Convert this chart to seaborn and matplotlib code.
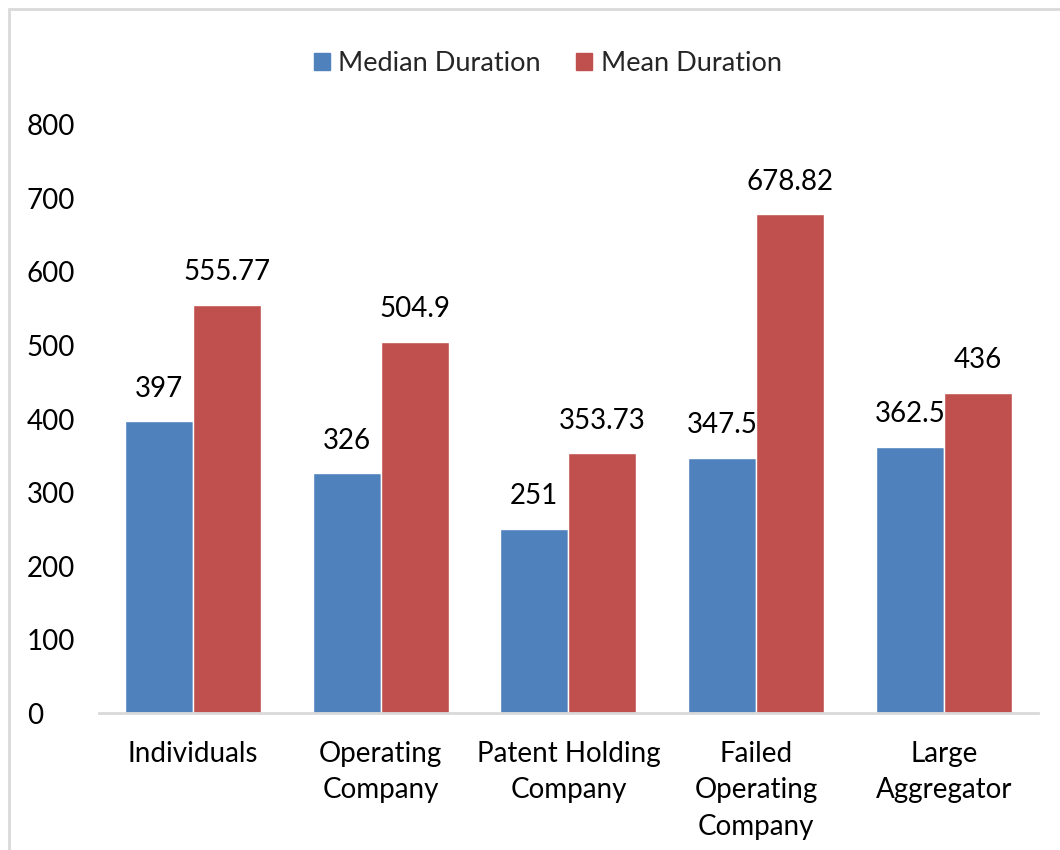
import pandas as pd
import matplotlib.pyplot as plt
import matplotlib.patches as mpatches
import seaborn as sns

# Dados do gráfico
categorias = ['Individuals', 'Operating\nCompany', 'Patent Holding\nCompany',
              'Failed\nOperating\nCompany', 'Large\nAggregator']
mediana = [397, 326, 251, 347.5, 362.5]
media = [555.77, 504.9, 353.73, 678.82, 436]
rotulos_mediana = ['397', '326', '251', '347.5', '362.5']
rotulos_media = ['555.77', '504.9', '353.73', '678.82', '436']
series = ['Median Duration', 'Mean Duration']
cores = ['#4F81BD', '#C0504D']

df = pd.DataFrame({
    'Categoria': categorias * 2,
    'Valor': mediana + media,
    'Serie': [series[0]] * 5 + [series[1]] * 5,
})

sns.set_style('white')
plt.rcParams['font.family'] = ['Lato', 'DejaVu Sans']

fig = plt.figure(figsize=(10.6, 8.5), dpi=100)
ax = fig.add_axes([0.0934, 0.161, 0.8856, 0.692])

sns.barplot(data=df, x='Categoria', y='Valor', hue='Serie', palette=cores,
            width=0.725, saturation=1, ax=ax, legend=True)

# Rótulos de dados
for cont, rot in zip(ax.containers, [rotulos_mediana, rotulos_media]):
    ax.bar_label(cont, labels=rot, padding=14, fontsize=20, color='black')

ax.set_ylim(0, 800)
ax.set_yticks(range(0, 801, 100))
ax.set_xlabel('')
ax.set_ylabel('')
ax.tick_params(axis='both', length=0, labelsize=20, colors='black')
ax.tick_params(axis='y', pad=52)
ax.tick_params(axis='x', pad=20)
for lbl in ax.get_yticklabels():
    lbl.set_horizontalalignment('left')
for lbl in ax.get_xticklabels():
    lbl.set_linespacing(1.5)

sns.despine(ax=ax, left=True)
ax.spines['bottom'].set_color('#D9D9D9')
ax.spines['bottom'].set_linewidth(2)

# Legenda no topo
handles = [mpatches.Patch(color=c) for c in cores]
ax.legend(handles, series, loc='center', bbox_to_anchor=(0.478, 1.105),
          ncol=2, frameon=False, fontsize=19.5, handlelength=0.6,
          handleheight=0.6, handletextpad=0.3, columnspacing=1.3)

# Borda do gráfico
fig.patches.append(mpatches.Rectangle((9 / 1060, -0.1), 1.2, 0.1 + 841 / 850,
                                      transform=fig.transFigure, fill=False,
                                      edgecolor='#D9D9D9', linewidth=2))

fig.savefig('out.png', dpi=100)
